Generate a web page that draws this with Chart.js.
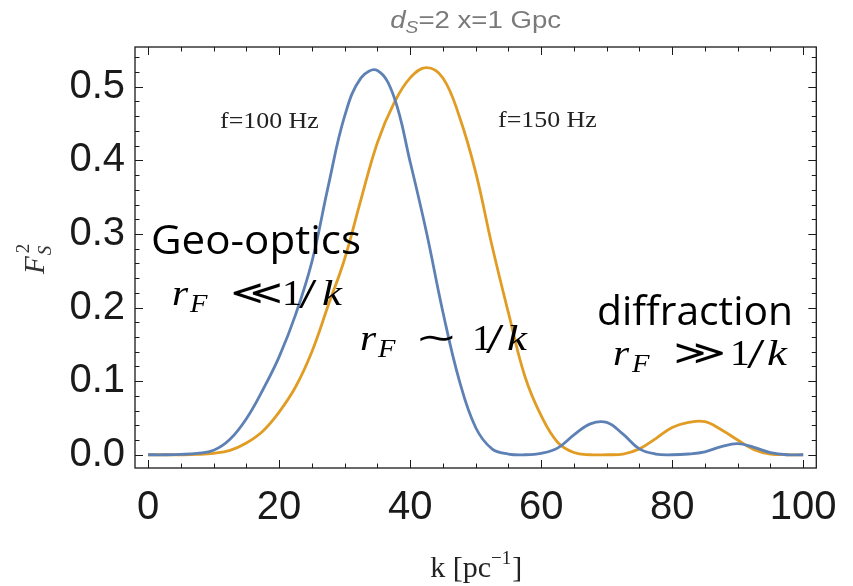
<!DOCTYPE html>
<html lang="en">
<head>
<meta charset="UTF-8">
<title>F_S^2 versus k</title>
<script src="https://cdn.jsdelivr.net/npm/chart.js"></script>
<style>
  html, body { margin: 0; padding: 0; background: #fff; }
  #wrap { width: 853px; height: 586px; }
</style>
</head>
<body>
<div id="wrap"><canvas id="fsChart" width="853" height="586"></canvas></div>
<script>
// wavenumber grid, k [pc^-1]
const kValues = [0, 2.5, 5, 7.5, 10, 12.5, 15, 17.5, 20, 22.5, 25, 27.5, 30, 32.5, 35, 37.5, 40,
  42.5, 45, 47.5, 50, 52.5, 55, 57.5, 60, 62.5, 65, 67.5, 70, 72.5, 75, 77.5, 80, 82.5, 85, 87.5,
  90, 92.5, 95, 97.5, 100];

// F_S^2 for f = 100 Hz
const fs100Hz = [0, 0, 0.0005, 0.002, 0.006, 0.021, 0.049, 0.088, 0.133, 0.19, 0.262, 0.365, 0.46,
  0.512, 0.522, 0.487, 0.398, 0.302, 0.194, 0.101, 0.037, 0.008, 0.001, 0, 0.002, 0.009, 0.027, 0.042,
  0.044, 0.028, 0.008, 0.001, 0, 0.001, 0.004, 0.011, 0.015, 0.01, 0.003, 0, 0];

// F_S^2 for f = 150 Hz
const fs150Hz = [0, 0, 0, 0.0005, 0.002, 0.006, 0.016, 0.032, 0.058, 0.092, 0.14, 0.203, 0.266,
  0.347, 0.424, 0.477, 0.512, 0.526, 0.512, 0.46, 0.384, 0.284, 0.193, 0.107, 0.053, 0.017, 0.003,
  0, 0, 0.001, 0.008, 0.022, 0.037, 0.044, 0.045, 0.034, 0.02, 0.007, 0.001, 0, 0];

const xTickValues = [0, 20, 40, 60, 80, 100];
const yTickValues = [0, 0.1, 0.2, 0.3, 0.4, 0.5];
const xMinorStep = 5;
const yMinorStep = 0.02;

const BLUE = '#5e81b5';
const ORANGE = '#e19c24';

function toPoints(ys) {
  return kValues.map((k, i) => ({ x: k, y: ys[i] }));
}

// draw a run of text, optionally stretched horizontally; returns advance width
function put(ctx, text, x, y, font, color, sx) {
  sx = sx || 1;
  ctx.save();
  ctx.font = font;
  ctx.fillStyle = color;
  ctx.textAlign = 'left';
  ctx.textBaseline = 'alphabetic';
  ctx.translate(x, y);
  ctx.scale(sx, 1);
  ctx.fillText(text, 0, 0);
  const w = ctx.measureText(text).width * sx;
  ctx.restore();
  return w;
}

function textWidth(ctx, text, font) {
  ctx.save();
  ctx.font = font;
  const w = ctx.measureText(text).width;
  ctx.restore();
  return w;
}

// r_F <rel> 1/k in a TeX-like look
function formula(ctx, x0, base, rel, off) {
  const it = 'italic 36px "Liberation Serif"';
  const rm = '36px "Liberation Serif"';
  put(ctx, 'r', x0, base, it, '#000', 1.15);
  put(ctx, 'F', x0 + off[0], base + 7, 'italic 26px "Liberation Serif"', '#000', 1.1);
  put(ctx, rel, x0 + off[1], base - 1, '34px "DejaVu Sans"', '#000', 1.5);
  put(ctx, '1', x0 + off[2], base, rm, '#000', 1.1);
  put(ctx, '/', x0 + off[3], base + 3, '42px "Liberation Serif"', '#000', 1.5);
  put(ctx, 'k', x0 + off[4], base, it, '#000', 1.25);
}

// box frame with inward major/minor ticks on all four sides
const framePlugin = {
  id: 'frameTicks',
  afterDatasetsDraw(chart) {
    const { ctx, chartArea: a, scales } = chart;
    const xs = scales.x, ys = scales.y;
    ctx.save();
    ctx.strokeStyle = '#1a1a1a';
    ctx.lineWidth = 1.3;
    ctx.strokeRect(a.left, a.top, a.right - a.left, a.bottom - a.top);
    ctx.lineWidth = 1;
    ctx.beginPath();
    for (let v = 0; v <= 100 + 1e-9; v += xMinorStep) {
      const px = Math.round(xs.getPixelForValue(v)) + 0.5;
      const len = xTickValues.includes(v) ? 8 : 4.5;
      ctx.moveTo(px, a.bottom); ctx.lineTo(px, a.bottom - len);
      ctx.moveTo(px, a.top); ctx.lineTo(px, a.top + len);
    }
    for (let i = 0; i * yMinorStep <= ys.max + 1e-9; i++) {
      const v = i * yMinorStep;
      const py = Math.round(ys.getPixelForValue(v)) + 0.5;
      const major = i % 5 === 0;
      const len = major ? 8 : 4.5;
      ctx.moveTo(a.left, py); ctx.lineTo(a.left + len, py);
      ctx.moveTo(a.right, py); ctx.lineTo(a.right - len, py);
    }
    ctx.stroke();
    ctx.restore();
  },
  afterDraw(chart) {
    const { ctx, chartArea: a } = chart;
    const cx = (a.left + a.right) / 2;

    // plot label: d_S=2 x=1 Gpc
    const grey = '#7a7a7a';
    const sx = 1.2;
    const f1 = 'italic 23px "Liberation Sans"';
    const f2 = 'italic 16px "Liberation Sans"';
    const f3 = '23px "Liberation Sans"';
    const rest = '=2 x=1 Gpc';
    const total = (textWidth(ctx, 'd', f1) + textWidth(ctx, 'S', f2) + textWidth(ctx, rest, f3)) * sx;
    let x = cx - total / 2;
    x += put(ctx, 'd', x, 28, f1, grey, sx);
    x += put(ctx, 'S', x, 33, f2, grey, sx);
    put(ctx, rest, x, 28, f3, grey, sx);

    // x axis title: k [pc^-1]
    const s30 = '30px "Liberation Serif"';
    const s19 = '19px "Liberation Serif"';
    const w1 = textWidth(ctx, 'k [pc', s30), w2 = textWidth(ctx, '\u22121', s19), w3 = textWidth(ctx, ']', s30);
    x = cx - (w1 + w2 + w3) / 2;
    x += put(ctx, 'k [pc', x, 577, s30, '#222');
    x += put(ctx, '\u22121', x, 564, s19, '#222');
    put(ctx, ']', x + 1, 577, s30, '#222');

    // y axis title: F_S^2, rotated
    ctx.save();
    ctx.translate(44, 274);
    ctx.rotate(-Math.PI / 2);
    const wF = put(ctx, 'F', 0, 0, 'italic 29px "Liberation Serif"', '#333');
    put(ctx, 'S', wF + 1, 7, 'italic 19px "Liberation Serif"', '#333');
    put(ctx, '2', wF + 3, -15, '19px "Liberation Serif"', '#333');
    ctx.restore();

    // curve labels
    put(ctx, 'f=100 Hz', 220, 128, '24px "Liberation Serif"', '#222', 1.08);
    put(ctx, 'f=150 Hz', 498, 127, '24px "Liberation Serif"', '#222', 1.08);

    // regime labels
    const sans = '40px "Open Sans"';
    put(ctx, 'Geo-optics', 151, 254, sans, '#000', 210 / textWidth(ctx, 'Geo-optics', sans));
    put(ctx, 'diffraction', 597, 325, sans, '#000', 196 / textWidth(ctx, 'diffraction', sans));
    formula(ctx, 172, 305, '\u226a', [18, 58, 110, 127, 150]);
    formula(ctx, 360, 350, '\u223c', [18, 55, 112, 126, 147]);
    formula(ctx, 613, 365, '\u226b', [19, 60, 117, 134, 154]);
  }
};

const ctx = document.getElementById('fsChart').getContext('2d');
const fsChart = new Chart(ctx, {
  type: 'line',
  data: {
    datasets: [
      {
        label: 'f=100 Hz',
        data: toPoints(fs100Hz),
        borderColor: BLUE,
        borderWidth: 2.8,
        pointRadius: 0,
        fill: false,
        tension: 0.4
      },
      {
        label: 'f=150 Hz',
        data: toPoints(fs150Hz),
        borderColor: ORANGE,
        borderWidth: 2.8,
        pointRadius: 0,
        fill: false,
        tension: 0.4
      }
    ]
  },
  options: {
    responsive: false,
    animation: false,
    devicePixelRatio: 1,
    layout: { padding: { top: 47, right: 23, left: 0, bottom: 0 } },
    plugins: {
      legend: { display: false },
      tooltip: { enabled: false }
    },
    scales: {
      x: {
        type: 'linear',
        min: -2,
        max: 102,
        grid: { display: false, drawTicks: false },
        border: { display: false },
        afterBuildTicks: s => { s.ticks = xTickValues.map(v => ({ value: v })); },
        afterFit: s => { s.height = 118; },
        ticks: {
          autoSkip: false,
          maxRotation: 0,
          padding: 16,
          color: '#1a1a1a',
          font: { family: '"Liberation Sans"', size: 40 },
          callback: v => String(v)
        }
      },
      y: {
        type: 'linear',
        min: -0.018,
        max: 0.554,
        grid: { display: false, drawTicks: false },
        border: { display: false },
        afterBuildTicks: s => { s.ticks = yTickValues.map(v => ({ value: v })); },
        afterFit: s => { s.width = 135; },
        ticks: {
          padding: 10,
          color: '#1a1a1a',
          font: { family: '"Liberation Sans"', size: 40 },
          callback: v => v.toFixed(1)
        }
      }
    }
  },
  plugins: [framePlugin]
});
</script>
</body>
</html>
